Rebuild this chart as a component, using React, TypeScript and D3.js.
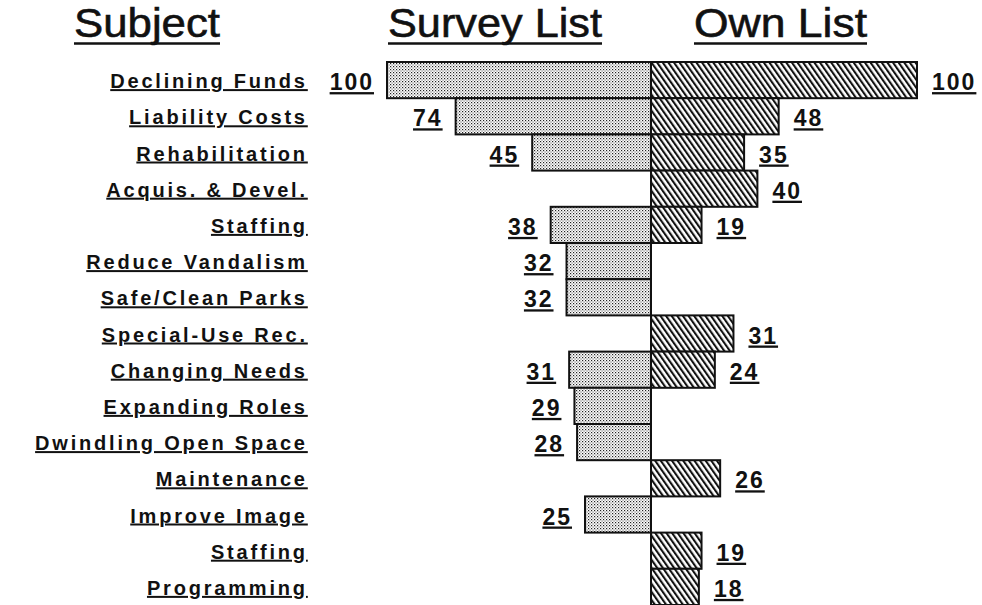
import React from "react";
import * as d3 from "d3";

const subjects = [
  "Declining Funds",
  "Liability Costs",
  "Rehabilitation",
  "Acquis. & Devel.",
  "Staffing",
  "Reduce Vandalism",
  "Safe/Clean Parks",
  "Special-Use Rec.",
  "Changing Needs",
  "Expanding Roles",
  "Dwindling Open Space",
  "Maintenance",
  "Improve Image",
  "Staffing",
  "Programming",
];
const surveyList: (number | null)[] = [100, 74, 45, null, 38, 32, 32, null, 31, 29, 28, null, 25, null, null];
const ownList: (number | null)[] = [100, 48, 35, 40, 19, null, null, 31, 24, null, null, 26, null, 19, 18];
const headers = ["Subject", "Survey List", "Own List"];

const W = 982;
const H = 605;
const CX = 651;

export default function App() {
  const idx = subjects.map((_, i) => i);
  const y = d3.scaleBand<number>().domain(idx).range([62, 605]).padding(0);
  const xL = d3.scaleLinear().domain([0, 100]).range([CX, 387]);
  const xR = d3.scaleLinear().domain([0, 100]).range([CX, 917]);
  const bw = y.bandwidth();

  const labelFont = "'Liberation Sans', Arial, sans-serif";
  const headerPos = [
    { x: 74, w: 146 },
    { x: 388, w: 214 },
    { x: 694, w: 173 },
  ];
  const ls = 2.8;
  const vls = 2;

  return (
    <svg
      width={W}
      height={H}
      style={{ position: "absolute", left: 0, top: 0, background: "#fff" }}
    >
      <defs>
        <pattern id="dots" width={3} height={3} patternUnits="userSpaceOnUse">
          <rect width={3} height={3} fill="#fff" />
          <rect x={0} y={0} width={1.2} height={1.2} fill="#222" />
          <rect x={1.5} y={1.5} width={1.1} height={1.1} fill="#555" />
        </pattern>
        <pattern
          id="hatch"
          width={4.6}
          height={10}
          patternUnits="userSpaceOnUse"
          patternTransform="rotate(-35)"
        >
          <rect width={4.6} height={10} fill="#fff" />
          <rect x={0} y={0} width={2.1} height={10} fill="#111" />
        </pattern>
      </defs>

      {headers.map((h, i) => (
        <g key={"h" + i}>
          <text
            x={headerPos[i].x}
            y={37}
            fontFamily={labelFont}
            fontSize={41}
            stroke="#111"
            strokeWidth={0.6}
            textLength={headerPos[i].w}
            lengthAdjust="spacingAndGlyphs"
            fill="#111"
          >
            {h}
          </text>
          <line
            x1={headerPos[i].x}
            x2={headerPos[i].x + headerPos[i].w}
            y1={43.5}
            y2={43.5}
            stroke="#111"
            strokeWidth={2.5}
          />
        </g>
      ))}

      {subjects.map((s, i) => (
        <text
          key={"l" + i}
          x={305 + ls}
          y={(y(i) as number) + bw / 2 + 8}
          textAnchor="end"
          fontFamily={labelFont}
          fontWeight="bold"
          fontSize={20}
          letterSpacing={ls}
          textDecoration="underline"
          fill="#111"
        >
          {s}
        </text>
      ))}

      {surveyList.map((v, i) =>
        v == null ? null : (
          <g key={"s" + i}>
            <rect
              x={xL(v)}
              y={y(i) as number}
              width={CX - xL(v)}
              height={bw}
              fill="url(#dots)"
              stroke="#111"
              strokeWidth={2}
            />
            <text
              x={xL(v) - 15 + vls}
              y={(y(i) as number) + bw / 2 + 10}
              textAnchor="end"
              fontFamily={labelFont}
              fontWeight="bold"
              fontSize={23}
              letterSpacing={vls}
              textDecoration="underline"
              fill="#111"
            >
              {v}
            </text>
          </g>
        )
      )}

      {ownList.map((v, i) =>
        v == null ? null : (
          <g key={"o" + i}>
            <rect
              x={CX}
              y={y(i) as number}
              width={xR(v) - CX}
              height={bw}
              fill="url(#hatch)"
              stroke="#111"
              strokeWidth={2}
            />
            <text
              x={xR(v) + 15}
              y={(y(i) as number) + bw / 2 + 10}
              textAnchor="start"
              fontFamily={labelFont}
              fontWeight="bold"
              fontSize={23}
              letterSpacing={vls}
              textDecoration="underline"
              fill="#111"
            >
              {v}
            </text>
          </g>
        )
      )}
    </svg>
  );
}
